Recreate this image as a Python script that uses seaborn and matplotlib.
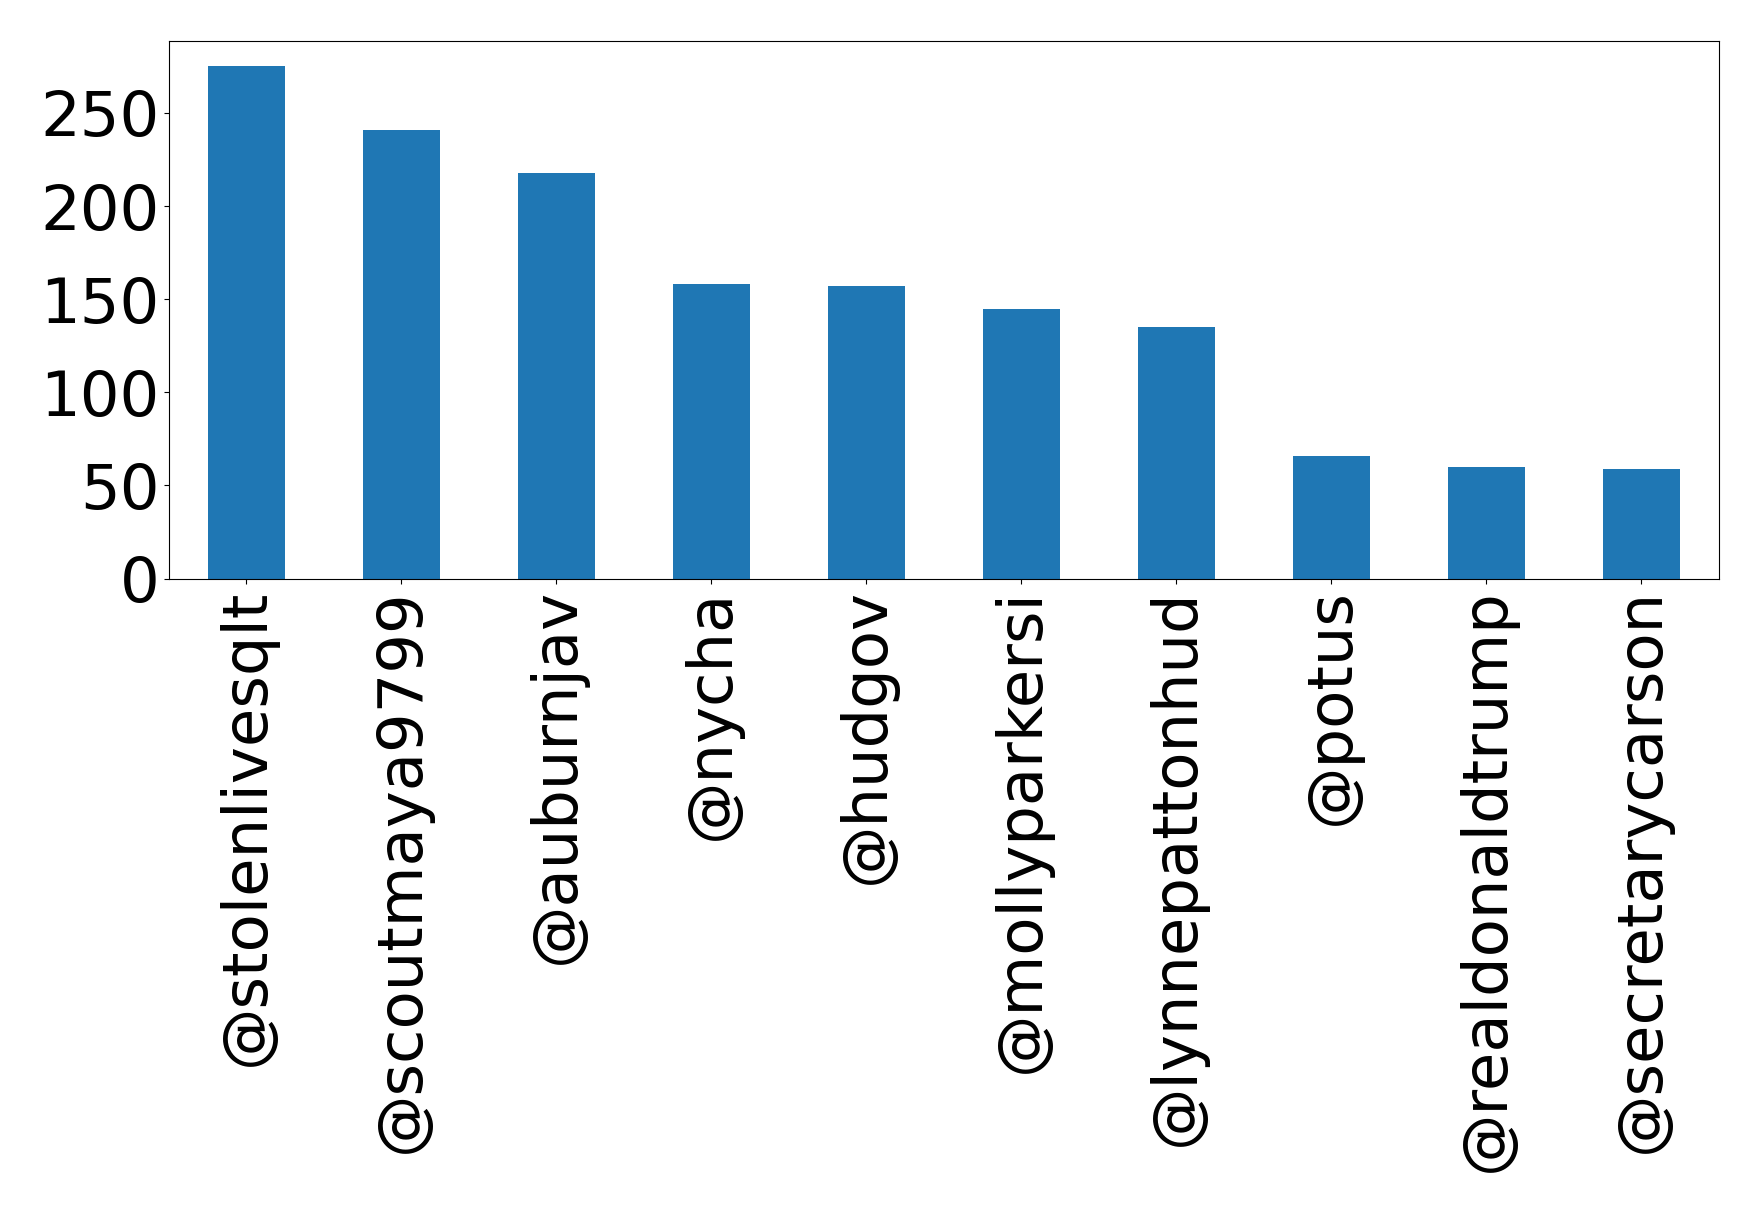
import pandas as pd
import matplotlib
matplotlib.use('Agg')
import matplotlib.pyplot as plt
from matplotlib.ticker import MultipleLocator
import seaborn as sns

# mention counts per account
accounts = ['@stolenlivesqlt', '@scoutmaya9799', '@auburnjav', '@nycha', '@hudgov',
            '@mollyparkersi', '@lynnepattonhud', '@potus', '@realdonaldtrump',
            '@secretarycarson']
counts = [275, 241, 218, 158, 157, 145, 135, 66, 60, 59]

df = pd.DataFrame({'account': accounts, 'count': counts})

fig = plt.figure(figsize=(17.58, 12.12), dpi=100)
ax = fig.add_axes([0.0961, 0.5226, 0.8817, 0.4438])

sns.barplot(x='account', y='count', data=df, color='#1f77b4', saturation=1,
            width=0.5, ax=ax)

ax.set_xlim(-0.5, len(accounts) - 0.5)
ax.yaxis.set_major_locator(MultipleLocator(50))
ax.set_xlabel('')
ax.set_ylabel('')
ax.tick_params(axis='both', labelsize=45)
plt.setp(ax.get_xticklabels(), rotation=90)

fig.savefig('out.png', dpi=100)
